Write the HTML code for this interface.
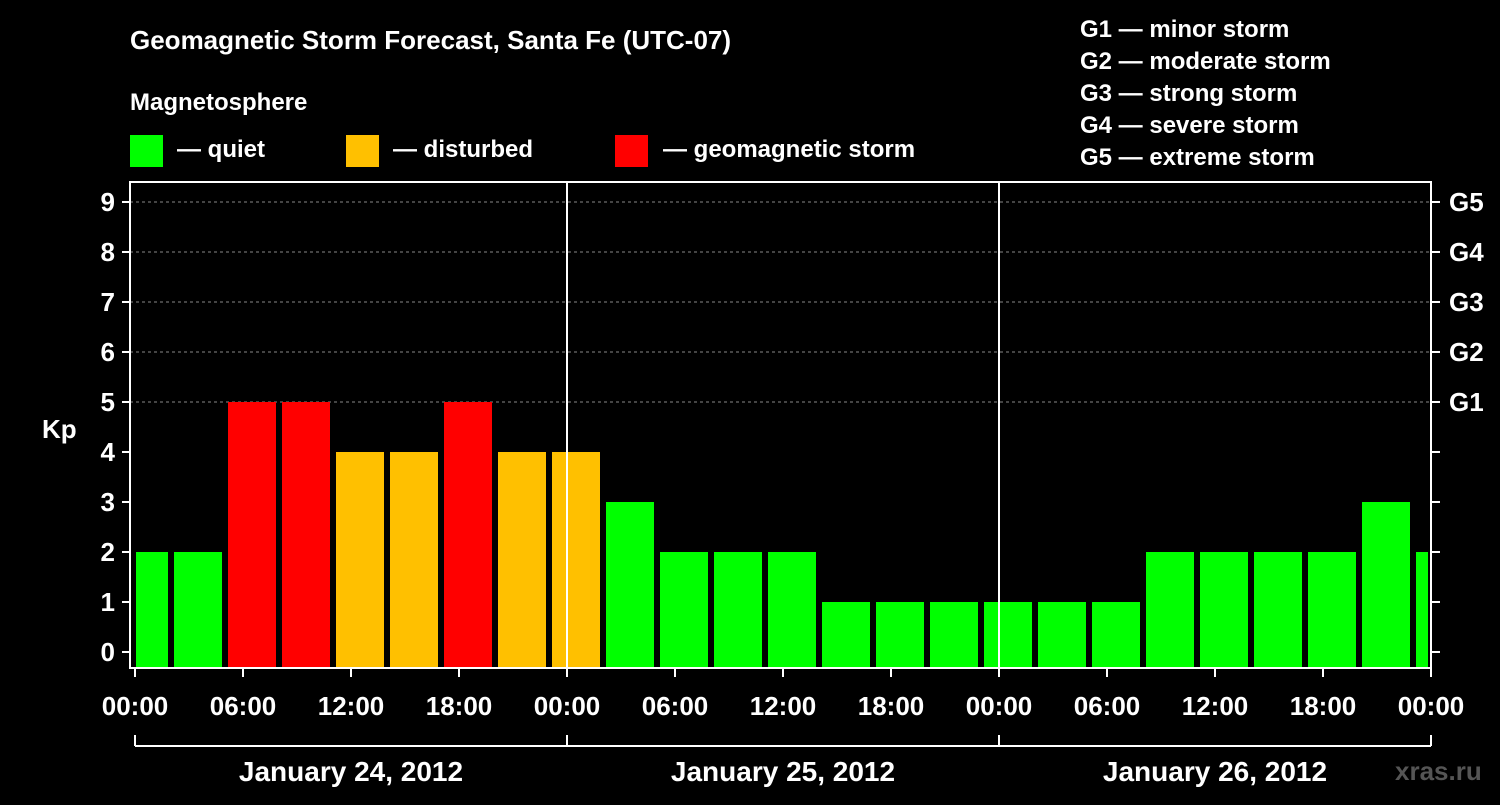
<!DOCTYPE html>
<html><head><meta charset="utf-8"><style>
body{margin:0;background:#000;}
svg text{font-family:"Liberation Sans",sans-serif;font-weight:bold;fill:#fff;}
</style></head><body>
<svg id="c" width="1500" height="800" xmlns="http://www.w3.org/2000/svg">
<rect width="1500" height="800" fill="#000"/>
<text x="130" y="49" font-size="26">Geomagnetic Storm Forecast, Santa Fe (UTC-07)</text>
<text x="130" y="110" font-size="24">Magnetosphere</text>
<g><rect x="130" y="135" width="33" height="32" fill="#00ff00"/><text x="177" y="157" font-size="24">— quiet</text></g>
<g><rect x="346" y="135" width="33" height="32" fill="#ffc000"/><text x="393" y="157" font-size="24">— disturbed</text></g>
<g><rect x="615" y="135" width="33" height="32" fill="#ff0000"/><text x="663" y="157" font-size="24">— geomagnetic storm</text></g>
<g font-size="24">
<text x="1080" y="37">G1 — minor storm</text>
<text x="1080" y="69">G2 — moderate storm</text>
<text x="1080" y="101">G3 — strong storm</text>
<text x="1080" y="133">G4 — severe storm</text>
<text x="1080" y="165">G5 — extreme storm</text>
</g>
<text x="42" y="438" font-size="26">Kp</text>
<text x="1395" y="780" font-size="26" fill="#666" style="fill:#555">xras.ru</text>
<g id="plot"></g>
</svg>
<script>
const kpValues=[2,2,5,5,4,4,5,4,4,3,2,2,2,1,1,1,1,1,1,2,2,2,2,3,2];
const startHour=-1; // first slot starts at 23:00 previous day (UTC-7 offset)
const dayLabels=["January 24, 2012","January 25, 2012","January 26, 2012"];
const hourTicks=["00:00","06:00","12:00","18:00"];
const gLabels=["G1","G2","G3","G4","G5"];
const NS="http://www.w3.org/2000/svg";
const X0=135,PX_H=18,Y0=652,PX_K=50,TOP=182,BOT=668,RIGHT=1431;
const xs=h=>X0+h*PX_H, ys=k=>Y0-k*PX_K;
const g=document.getElementById('plot');
function mk(t,a,p){const e=document.createElementNS(NS,t);for(const k in a)e.setAttribute(k,a[k]);(p||g).appendChild(e);return e;}
// grid
for(let k=5;k<=9;k++){const l=mk('line',{x1:130,x2:RIGHT,y1:ys(k),y2:ys(k),stroke:'#888','stroke-dasharray':'3,3','stroke-width':1});

}
// bars
kpValues.forEach((v,i)=>{let a=xs(startHour+i*3)+3,b=xs(startHour+i*3+3)-3;a=Math.max(a,X0+1);b=Math.min(b,RIGHT-3);
const col=v>=5?'#ff0000':v>=4?'#ffc000':'#00ff00';
const r=mk('rect',{x:a,y:ys(v),width:b-a,height:BOT-ys(v),fill:col});

});
// frame
const f=mk('rect',{x:130,y:TOP,width:RIGHT-130,height:BOT-TOP,fill:'none',stroke:'#fff','stroke-width':2});


// day separators
for(let d=1;d<3;d++){const l=mk('line',{x1:xs(24*d),x2:xs(24*d),y1:TOP,y2:BOT,stroke:'#fff','stroke-width':2});

}
// y ticks
for(let k=0;k<=9;k++){mk('line',{x1:122,x2:130,y1:ys(k),y2:ys(k),stroke:'#fff','stroke-width':2});
mk('line',{x1:RIGHT,x2:RIGHT+9,y1:ys(k),y2:ys(k),stroke:'#fff','stroke-width':2});
const t=mk('text',{x:115,y:ys(k)+9,'font-size':26,'text-anchor':'end'});t.textContent=k;

}
gLabels.forEach((s,i)=>{const t=mk('text',{x:1449,y:ys(5+i)+9,'font-size':26});t.textContent=s;

});
// x ticks
for(let h=0;h<=72;h+=6){const x=xs(h);mk('line',{x1:x,x2:x,y1:BOT,y2:BOT+9,stroke:'#fff','stroke-width':2});
const t=mk('text',{x:x,y:715,'font-size':26,'text-anchor':'middle'});t.textContent=hourTicks[(h/6)%4];

}
// day bracket
mk('line',{x1:X0,x2:RIGHT,y1:746,y2:746,stroke:'#fff','stroke-width':2});
for(let d=0;d<=3;d++)mk('line',{x1:xs(24*d),x2:xs(24*d),y1:735,y2:746,stroke:'#fff','stroke-width':2});
dayLabels.forEach((s,d)=>{const t=mk('text',{x:xs(24*d+12),y:781,'font-size':28,'text-anchor':'middle'});t.textContent=s;

});
</script>
</body></html>
